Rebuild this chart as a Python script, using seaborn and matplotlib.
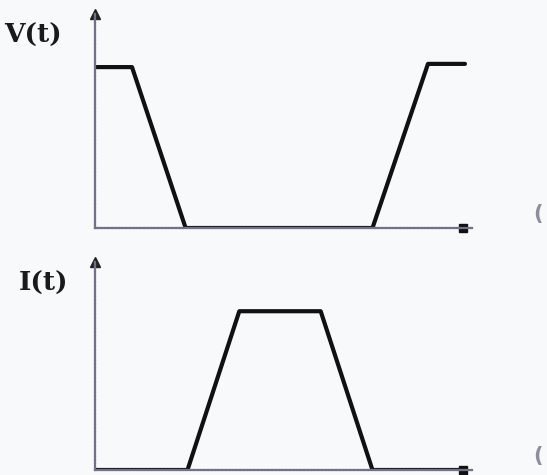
import matplotlib
matplotlib.use("Agg")
import matplotlib.pyplot as plt
import seaborn as sns
import pandas as pd

# waveform corner points (time units, normalised level)
v_time = [0.0, 1.0, 2.45, 7.5, 9.0, 10.0]
v_level = [1.0, 1.0, 0.0, 0.0, 1.02, 1.02]

i_time = [0.0, 2.5, 3.9, 6.1, 7.5, 10.0]
i_level = [0.0, 0.0, 1.0, 1.0, 0.0, 0.0]

panel_labels = ["V(t)", "I(t)"]

sns.set_style("white")
bg = "#f8f9fb"

W, H = 547, 475
fig = plt.figure(figsize=(W / 100, H / 100), dpi=100, facecolor=bg)


def px_axes(x0, y_top, x1, y_bot):
    return fig.add_axes([x0 / W, 1 - y_bot / H, (x1 - x0) / W, (y_bot - y_top) / H])


panels = [
    (px_axes(95, 14, 472, 228), v_time, v_level, 1.33, (33, 35), 214),
    (px_axes(95, 262, 472, 470), i_time, i_level, 1.31, (43, 283), 456),
]

for (ax, t, lvl, ytop, lab_pos, edge_y), label in zip(panels, panel_labels):
    df = pd.DataFrame({"t": t, "level": lvl})
    ax.set_facecolor(bg)
    sns.lineplot(data=df, x="t", y="level", ax=ax, color="#111111",
                 linewidth=3.0, sort=False, estimator=None)
    ax.set_xlim(0, 10.19)
    ax.set_ylim(0, ytop)
    ax.set_xlabel("")
    ax.set_ylabel("")
    ax.set_xticks([])
    ax.set_yticks([])
    for s in ["top", "right"]:
        ax.spines[s].set_visible(False)
    for s in ["left", "bottom"]:
        ax.spines[s].set_color("#6f7385")
        ax.spines[s].set_linewidth(1.6)
        ax.spines[s].set_linestyle((0, (1, 0.6)))
    # arrow heads
    ax.plot(0, 1, marker="^", color="#222222", markersize=7,
            transform=ax.transAxes, clip_on=False)
    ax.plot(0.975, 0, marker="s", color="#111111", markersize=5.5,
            transform=ax.transAxes, clip_on=False)
    fig.text(lab_pos[0] / W, 1 - lab_pos[1] / H, label, fontsize=19,
             fontweight="bold", family="DejaVu Serif", color="#1a1a1a",
             ha="center", va="center")
    # cut-off glyph at the right edge of the scan
    fig.text(533 / W, 1 - edge_y / H, "(", fontsize=15, fontweight="bold",
             color="#8a8f9c", ha="left", va="center")

fig.savefig("out.png", dpi=100, facecolor=bg)
